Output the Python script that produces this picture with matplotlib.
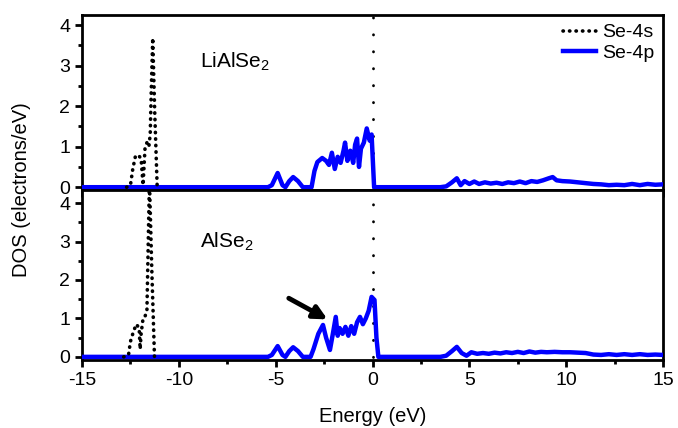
import numpy as np
import matplotlib.pyplot as plt

plt.rcParams['font.family'] = ['Liberation Sans', 'DejaVu Sans']
plt.rcParams['mathtext.fontset'] = 'custom'
plt.rcParams['mathtext.rm'] = 'Liberation Sans'
plt.rcParams['axes.unicode_minus'] = False

# Se-4s (black dotted), LiAlSe2 (top) and AlSe2 (bottom)
e_s_top = [-12.7, -12.5, -12.38, -12.25, -12.1, -11.95, -11.85, -11.8, -11.75, -11.65,
           -11.55, -11.48, -11.42, -11.35, -11.25, -11.12, -11.0]
d_s_top = [0.0, 0.05, 0.45, 0.75, 0.8, 0.7, 0.05, 0.5, 0.95, 1.1,
           1.0, 1.3, 2.5, 3.68, 1.9, 0.0, 0.0]
e_s_bot = [-12.85, -12.6, -12.5, -12.35, -12.2, -12.05, -12.0, -11.95, -11.85, -11.75,
           -11.65, -11.6, -11.52, -11.4, -11.26, -11.1]
d_s_bot = [0.0, 0.05, 0.4, 0.65, 0.85, 0.75, 0.2, 0.6, 1.0, 1.05,
           1.2, 2.5, 4.6, 2.3, 0.0, 0.0]

# Se-4p (blue)
e_p_top = [-15, -5.4, -5.2, -4.9, -4.65, -4.5, -4.3, -4.1, -3.85, -3.6, -3.15, -3.0,
           -2.85, -2.6, -2.4, -2.25, -2.1, -1.95, -1.8, -1.65, -1.5, -1.42, -1.3, -1.15,
           -1.0, -0.9, -0.8, -0.7, -0.6, -0.45, -0.3, -0.15, -0.05, 0.08, 0.2,
           3.5, 3.8, 4.1, 4.35, 4.55, 4.75, 5.0, 5.25, 5.5, 5.8, 6.1, 6.4, 6.7, 7.0,
           7.3, 7.6, 7.9, 8.2, 8.5, 8.8, 9.1, 9.3, 9.5, 9.8, 10.2, 10.6, 11.0, 11.4,
           11.8, 12.2, 12.6, 13.0, 13.4, 13.8, 14.2, 14.6, 15]
d_p_top = [0, 0, 0.05, 0.35, 0.05, 0.0, 0.15, 0.25, 0.15, 0, 0, 0.4,
           0.62, 0.72, 0.65, 0.55, 0.85, 0.45, 0.75, 0.6, 0.9, 1.1, 0.65, 0.9,
           0.6, 1.05, 1.2, 0.5, 0.95, 1.1, 1.45, 1.15, 1.3, 0, 0,
           0, 0.02, 0.12, 0.22, 0.05, 0.15, 0.08, 0.14, 0.08, 0.12, 0.09, 0.11, 0.08, 0.12,
           0.1, 0.14, 0.1, 0.15, 0.13, 0.17, 0.22, 0.25, 0.17, 0.15, 0.14, 0.12, 0.1, 0.08,
           0.07, 0.05, 0.06, 0.05, 0.08, 0.05, 0.08, 0.06, 0.07]
e_p_bot = [-15, -5.4, -5.2, -4.9, -4.65, -4.5, -4.3, -4.1, -3.85, -3.6, -3.2, -3.05,
           -2.8, -2.56, -2.4, -2.2, -2.05, -1.9, -1.8, -1.7, -1.55, -1.4, -1.25, -1.1,
           -0.95, -0.8, -0.65, -0.5, -0.35, -0.2, -0.05, 0.1, 0.2, 0.3, 0.5,
           3.5, 3.8, 4.1, 4.35, 4.6, 4.85, 5.1, 5.4, 5.7, 6.0, 6.3, 6.6, 6.9, 7.2,
           7.5, 7.8, 8.1, 8.4, 8.7, 9.0, 9.4, 9.8, 10.2, 10.6, 11.0, 11.4, 11.8, 12.2,
           12.6, 13.0, 13.4, 13.8, 14.2, 14.6, 15]
d_p_bot = [0, 0, 0.05, 0.28, 0.05, 0, 0.15, 0.25, 0.15, 0, 0, 0.2,
           0.6, 0.83, 0.5, 0.18, 0.6, 1.04, 0.55, 0.75, 0.6, 0.78, 0.55, 0.8,
           0.6, 0.9, 1.04, 0.85, 1.0, 1.2, 1.56, 1.48, 0.5, 0, 0,
           0, 0.03, 0.15, 0.26, 0.1, 0.03, 0.12, 0.08, 0.1, 0.08, 0.11, 0.09, 0.12, 0.1,
           0.13, 0.1, 0.14, 0.11, 0.13, 0.12, 0.13, 0.12, 0.12, 0.11, 0.1, 0.06, 0.05, 0.07,
           0.05, 0.07, 0.05, 0.07, 0.05, 0.06, 0.05]

labels = ['LiAlSe$_2$', 'AlSe$_2$']

fig = plt.figure(figsize=(6.78, 4.28), dpi=100)
ax1 = fig.add_axes([0.121, 0.556, 0.857, 0.409])
ax2 = fig.add_axes([0.121, 0.159, 0.857, 0.397], sharex=ax1)

dots = (0, (0.1, 1.7))
panels = [(ax1, e_s_top, d_s_top, e_p_top, d_p_top, (-0.07, 4.25), labels[0]),
          (ax2, e_s_bot, d_s_bot, e_p_bot, d_p_bot, (-0.08, 4.34), labels[1])]

for ax, es, ds, ep, dp, ylim, lab in panels:
    ax.plot(ep, dp, color='#0000ff', lw=3.2, label='Se-4p', zorder=3,
            solid_joinstyle='round')
    ax.plot(es, ds, color='black', lw=2.6, linestyle=dots, dash_capstyle='round',
            label='Se-4s', zorder=4)
    ax.plot([0, 0], [0, 5], color='black', lw=2.0, linestyle=(0, (0.1, 6.0)),
            dash_capstyle='round', zorder=2)
    ax.set_xlim(-15, 15)
    ax.set_ylim(*ylim)
    ax.set_yticks([0, 1, 2, 3, 4])
    ax.set_yticks(np.arange(0.5, 4.5, 1), minor=True)
    ax.set_xticks(np.arange(-15, 16, 5))
    ax.set_xticks(np.arange(-12.5, 15, 5), minor=True)
    ax.tick_params(which='major', direction='out', length=5, width=2, labelsize=14)
    ax.tick_params(which='minor', direction='out', length=3, width=2)
    ax.tick_params(axis='x', which='both', top=False)
    for sp in ax.spines.values():
        sp.set_linewidth(2)
    ax.text(-8.9, 3.1 if ax is ax1 else 3.0, lab, fontsize=15, va='center')

ax1.tick_params(axis='x', labelbottom=False)

h, l = ax1.get_legend_handles_labels()
ax1.legend(h[::-1], l[::-1], loc='upper right', frameon=False, fontsize=14,
           handlelength=1.7, handletextpad=0.3, borderaxespad=0.05, labelspacing=0.15)

ax2.annotate('', xy=(-2.2, 0.94), xytext=(-4.45, 1.56),
             arrowprops=dict(arrowstyle='-|>,head_length=0.8,head_width=0.4',
                             color='black', lw=3.5))

ax2.set_xlabel('Energy (eV)', fontsize=14.5, labelpad=13)
fig.text(0.032, 0.556, 'DOS (electrons/eV)', rotation=90, fontsize=14.5,
         ha='center', va='center')

plt.savefig('out.png', dpi=100)
